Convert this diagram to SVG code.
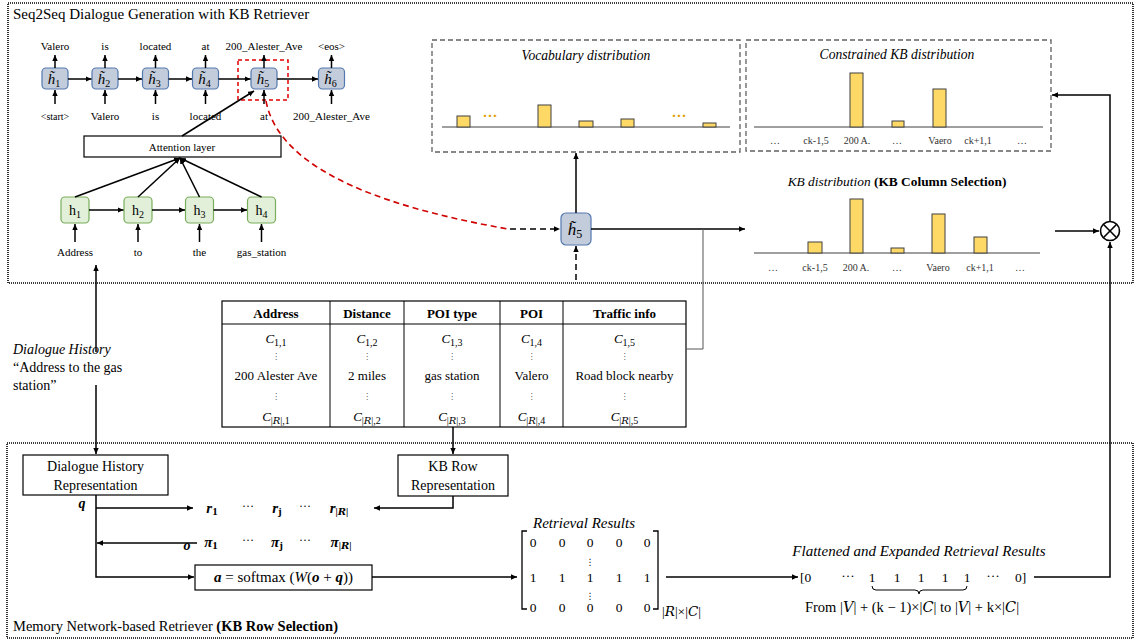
<svg xmlns="http://www.w3.org/2000/svg" width="1136" height="641" viewBox="0 0 1136 641">
<style>
text{font-family:"Liberation Serif","DejaVu Serif",serif;fill:#000}
.lab{font-size:11px;text-anchor:middle}
.dn rect{fill:#C3CCDA;stroke:#5478B0;stroke-width:1.2}
.en rect{fill:#E2EFD9;stroke:#78AD5A;stroke-width:1.2}
.ln{stroke:#000;stroke-width:1.5;fill:none}
.arr{marker-end:url(#ah)}
.dot{fill:none;stroke:#000;stroke-width:1.6;stroke-dasharray:1 1}
.dash{fill:none;stroke:#606060;stroke-width:1.3;stroke-dasharray:5 3}
.bar{fill:#FFD966;stroke:#404040;stroke-width:1}
.ax{stroke:#404040;stroke-width:1.2}
.kl{font-size:10px;text-anchor:middle;fill:#333}
.it{font-style:italic}
.b{font-weight:bold}
.m{text-anchor:middle}
.hm{font-size:15px;font-style:italic;text-anchor:middle}
.sub{font-size:10px;font-style:normal}
.tb{font-size:13px;text-anchor:middle}
.vd{font-family:"DejaVu Sans",sans-serif;font-size:8px;text-anchor:middle;fill:#555}
.scr{font-family:"DejaVu Serif","DejaVu Sans",serif;font-style:italic}
.od{font-size:15px;text-anchor:middle;fill:#E0A000;font-weight:bold}
.mx{font-size:13.5px;text-anchor:middle}
</style>
<defs>
<marker id="ah" markerWidth="7" markerHeight="7" refX="6" refY="3" orient="auto" markerUnits="userSpaceOnUse"><path d="M0,0.3 L6,3 L0,5.7 z" fill="#000"/></marker>
</defs>

<!-- section frames -->
<g id="frames">
<rect class="dot" x="8" y="3" width="1125" height="280"/>
<rect class="dot" x="7" y="443" width="1126" height="195"/>
<text x="13" y="19" style="font-size:15px">Seq2Seq Dialogue Generation with KB Retriever</text>
<text x="13" y="631" style="font-size:14.5px">Memory Network-based Retriever <tspan class="b">(KB Row Selection)</tspan></text>
</g>

<!-- decoder -->
<g id="decoder">
<g class="dn" id="dh1"><rect x="42" y="68" width="26" height="21" rx="4"/><text class="hm" x="54" y="84">h&#x303;<tspan class="sub" dy="3">1</tspan></text></g>
<g class="dn" id="dh2"><rect x="92" y="68" width="26" height="21" rx="4"/><text class="hm" x="104" y="84">h&#x303;<tspan class="sub" dy="3">2</tspan></text></g>
<g class="dn" id="dh3"><rect x="142.5" y="68" width="26" height="21" rx="4"/><text class="hm" x="154.5" y="84">h&#x303;<tspan class="sub" dy="3">3</tspan></text></g>
<g class="dn" id="dh4"><rect x="192.5" y="68" width="26" height="21" rx="4"/><text class="hm" x="204.5" y="84">h&#x303;<tspan class="sub" dy="3">4</tspan></text></g>
<g class="dn" id="dh5"><rect x="251" y="68" width="26" height="21" rx="4"/><text class="hm" x="263" y="84">h&#x303;<tspan class="sub" dy="3">5</tspan></text></g>
<g class="dn" id="dh6"><rect x="318.5" y="68" width="26" height="21" rx="4"/><text class="hm" x="330.5" y="84">h&#x303;<tspan class="sub" dy="3">6</tspan></text></g>
<g id="dec-labels">
<text class="lab" x="55" y="50">Valero</text>
<text class="lab" x="105" y="50">is</text>
<text class="lab" x="155.5" y="50">located</text>
<text class="lab" x="205.5" y="50">at</text>
<text class="lab" x="264" y="50">200_Alester_Ave</text>
<text class="lab" x="331.5" y="50">&lt;eos&gt;</text>
<text class="lab" x="55" y="120" style="font-size:10px">&lt;start&gt;</text>
<text class="lab" x="105" y="120">Valero</text>
<text class="lab" x="155.5" y="120">is</text>
<text class="lab" x="205.5" y="120">located</text>
<text class="lab" x="264" y="120">at</text>
<text class="lab" x="331.5" y="120">200_Alester_Ave</text>
</g>
<rect x="238" y="60" width="50" height="40" fill="none" stroke="#E00000" stroke-width="1.5" stroke-dasharray="4 3"/>
</g>

<!-- attention + encoder -->
<g id="attention">
<rect x="84" y="136" width="197" height="21" fill="#fff" stroke="#000" stroke-width="1.2"/>
<text class="lab" x="182" y="151">Attention layer</text>
</g>
<g id="encoder">
<g class="en" id="eh1"><rect x="61" y="197" width="28" height="26" rx="4"/><text x="75" y="215" class="m" style="font-size:14px">h<tspan class="sub" dy="3">1</tspan></text></g>
<g class="en" id="eh2"><rect x="124" y="197" width="28" height="26" rx="4"/><text x="138" y="215" class="m" style="font-size:14px">h<tspan class="sub" dy="3">2</tspan></text></g>
<g class="en" id="eh3"><rect x="185.5" y="197" width="28" height="26" rx="4"/><text x="199.5" y="215" class="m" style="font-size:14px">h<tspan class="sub" dy="3">3</tspan></text></g>
<g class="en" id="eh4"><rect x="247.5" y="197" width="28" height="26" rx="4"/><text x="261.5" y="215" class="m" style="font-size:14px">h<tspan class="sub" dy="3">4</tspan></text></g>
<text class="lab" x="75" y="256">Address</text>
<text class="lab" x="138" y="256">to</text>
<text class="lab" x="199.5" y="256">the</text>
<text class="lab" x="261.5" y="256">gas_station</text>
</g>

<!-- big h5 -->
<g id="h5big" class="dn">
<rect x="561" y="213" width="30" height="32" rx="5"/>
<text class="hm" x="575" y="235" style="font-size:17px">h&#x303;<tspan class="sub" dy="3" style="font-size:12px">5</tspan></text>
</g>

<!-- vocabulary distribution -->
<g id="vocab">
<rect class="dash" x="432" y="40" width="308" height="112"/>
<text x="586" y="60" class="m it" style="font-size:13.6px">Vocabulary distribution</text>
<line class="ax" x1="442" y1="127" x2="730" y2="127"/>
<rect class="bar" x="457" y="116" width="13" height="11"/>
<rect class="bar" x="538" y="105" width="13" height="22"/>
<rect class="bar" x="579" y="121" width="14" height="6"/>
<rect class="bar" x="621" y="119" width="13" height="8"/>
<rect class="bar" x="703" y="123" width="13" height="4"/>
<text x="490" y="121" class="od">···</text>
<text x="679" y="121" class="od">···</text>
</g>

<!-- constrained KB distribution -->
<g id="constrained">
<rect class="dash" x="746" y="40" width="305" height="111"/>
<text x="897" y="59" class="m it" style="font-size:13.6px">Constrained KB distribution</text>
<line class="ax" x1="754" y1="127" x2="1043" y2="127"/>
<rect class="bar" x="850" y="73" width="13" height="54"/>
<rect class="bar" x="892" y="121" width="12" height="6"/>
<rect class="bar" x="933" y="89" width="13" height="38"/>
<text class="kl" x="775" y="144">…</text>
<text class="kl" x="816" y="144">ck-1,5</text>
<text class="kl" x="857" y="144">200 A.</text>
<text class="kl" x="897" y="144">…</text>
<text class="kl" x="940" y="144">Vaero</text>
<text class="kl" x="978" y="144">ck+1,1</text>
<text class="kl" x="1022" y="144">…</text>
</g>

<!-- KB distribution -->
<g id="kbdist">
<text x="897" y="186" class="m" style="font-size:13.4px"><tspan class="it">KB distribution </tspan><tspan class="b">(KB Column Selection)</tspan></text>
<line class="ax" x1="754" y1="253" x2="1040" y2="253"/>
<rect class="bar" x="808" y="242" width="14" height="11"/>
<rect class="bar" x="850" y="199" width="13" height="54"/>
<rect class="bar" x="891" y="248" width="13" height="5"/>
<rect class="bar" x="932" y="214" width="13" height="39"/>
<rect class="bar" x="974" y="237" width="13" height="16"/>
<text class="kl" x="773" y="271">…</text>
<text class="kl" x="815" y="271">ck-1,5</text>
<text class="kl" x="856" y="271">200 A.</text>
<text class="kl" x="897" y="271">…</text>
<text class="kl" x="938" y="271">Vaero</text>
<text class="kl" x="980" y="271">ck+1,1</text>
<text class="kl" x="1020" y="271">…</text>
</g>

<!-- multiply -->
<g id="mult">
<circle cx="1110" cy="231" r="9.5" fill="none" stroke="#000" stroke-width="1.6"/>
<line x1="1103.3" y1="224.3" x2="1116.7" y2="237.7" stroke="#000" stroke-width="1.6"/>
<line x1="1103.3" y1="237.7" x2="1116.7" y2="224.3" stroke="#000" stroke-width="1.6"/>
</g>

<!-- KB table -->
<g id="kbtable">
<rect x="222" y="301" width="464" height="126" fill="#fff" stroke="#000" stroke-width="1.2"/>
<line x1="222" y1="324" x2="686" y2="324" stroke="#000" stroke-width="1"/>
<line x1="330" y1="301" x2="330" y2="427" stroke="#000" stroke-width="1"/>
<line x1="404" y1="301" x2="404" y2="427" stroke="#000" stroke-width="1"/>
<line x1="500" y1="301" x2="500" y2="427" stroke="#000" stroke-width="1"/>
<line x1="563" y1="301" x2="563" y2="427" stroke="#000" stroke-width="1"/>
<text class="tb b" x="276" y="318">Address</text>
<text class="tb b" x="367" y="318">Distance</text>
<text class="tb b" x="452" y="318">POI type</text>
<text class="tb b" x="531.5" y="318">POI</text>
<text class="tb b" x="624.5" y="318">Traffic info</text>
<text class="tb it" x="276" y="343">C<tspan class="sub" dy="3">1,1</tspan></text>
<text class="tb it" x="367" y="343">C<tspan class="sub" dy="3">1,2</tspan></text>
<text class="tb it" x="452" y="343">C<tspan class="sub" dy="3">1,3</tspan></text>
<text class="tb it" x="531.5" y="343">C<tspan class="sub" dy="3">1,4</tspan></text>
<text class="tb it" x="624.5" y="343">C<tspan class="sub" dy="3">1,5</tspan></text>
<text class="vd" x="276" y="359">⋮</text><text class="vd" x="367" y="359">⋮</text><text class="vd" x="452" y="359">⋮</text><text class="vd" x="531.5" y="359">⋮</text><text class="vd" x="624.5" y="359">⋮</text>
<text class="tb" x="276" y="380">200 Alester Ave</text>
<text class="tb" x="367" y="380">2 miles</text>
<text class="tb" x="452" y="380">gas station</text>
<text class="tb" x="531.5" y="380">Valero</text>
<text class="tb" x="624.5" y="380">Road block nearby</text>
<text class="vd" x="276" y="399">⋮</text><text class="vd" x="367" y="399">⋮</text><text class="vd" x="452" y="399">⋮</text><text class="vd" x="531.5" y="399">⋮</text><text class="vd" x="624.5" y="399">⋮</text>
<text class="tb it" x="276" y="421">C<tspan class="sub" dy="3">|<tspan class="scr">R</tspan>|,1</tspan></text>
<text class="tb it" x="367" y="421">C<tspan class="sub" dy="3">|<tspan class="scr">R</tspan>|,2</tspan></text>
<text class="tb it" x="452" y="421">C<tspan class="sub" dy="3">|<tspan class="scr">R</tspan>|,3</tspan></text>
<text class="tb it" x="531.5" y="421">C<tspan class="sub" dy="3">|<tspan class="scr">R</tspan>|,4</tspan></text>
<text class="tb it" x="624.5" y="421">C<tspan class="sub" dy="3">|<tspan class="scr">R</tspan>|,5</tspan></text>
</g>

<!-- dialogue history text -->
<g id="dialogue-history">
<text x="13" y="354" class="it" style="font-size:14px">Dialogue History</text>
<text x="13" y="372" style="font-size:14px">“Address to the gas</text>
<text x="13" y="390" style="font-size:14px">station”</text>
</g>

<!-- retriever nodes -->
<g id="dhr">
<rect x="23" y="455" width="145" height="40" fill="#fff" stroke="#000" stroke-width="1.2"/>
<text x="95.5" y="471" class="m" style="font-size:14px">Dialogue History</text>
<text x="95.5" y="490" class="m" style="font-size:14px">Representation</text>
<text x="82" y="508" class="m b it" style="font-size:14px">q</text>
</g>
<g id="kbrow">
<rect x="398" y="455" width="110" height="41" fill="#fff" stroke="#000" stroke-width="1.2"/>
<text x="453" y="471" class="m" style="font-size:14px">KB Row</text>
<text x="453" y="490" class="m" style="font-size:14px">Representation</text>
</g>
<g id="rvec">
<text x="212" y="513" class="m b it" style="font-size:15px">r<tspan class="sub b" dy="2" style="font-size:11px">1</tspan></text>
<text x="248" y="510" class="m" style="font-size:12px">···</text>
<text x="277" y="513" class="m b it" style="font-size:15px">r<tspan class="sub b it" dy="2" style="font-size:11px">j</tspan></text>
<text x="305" y="510" class="m" style="font-size:12px">···</text>
<text x="339" y="513" class="m b it" style="font-size:15px">r<tspan class="sub" dy="2" style="font-size:10px">|<tspan class="scr">R</tspan>|</tspan></text>
</g>
<g id="pivec">
<text x="187" y="550" class="m b it" style="font-size:14px">o</text>
<text x="211" y="547" class="m b it" style="font-size:15px">π<tspan class="sub b" dy="2" style="font-size:11px">1</tspan></text>
<text x="248" y="544" class="m" style="font-size:12px">···</text>
<text x="277" y="547" class="m b it" style="font-size:15px">π<tspan class="sub b it" dy="2" style="font-size:11px">j</tspan></text>
<text x="305" y="544" class="m" style="font-size:12px">···</text>
<text x="341" y="547" class="m b it" style="font-size:15px">π<tspan class="sub" dy="2" style="font-size:10px">|<tspan class="scr">R</tspan>|</tspan></text>
</g>
<g id="softmax">
<rect x="195" y="565" width="177" height="25" fill="#fff" stroke="#000" stroke-width="1.2"/>
<text x="283.5" y="582" class="m" style="font-size:15px"><tspan class="b it">a</tspan> = softmax (<tspan class="it">W</tspan>(<tspan class="b it">o</tspan> + <tspan class="b it">q</tspan>))</text>
</g>

<!-- retrieval matrix -->
<g id="matrix">
<text x="584" y="528" class="m it" style="font-size:15px">Retrieval Results</text>
<path d="M527,531 H522 V609 H527 M653,531 H658 V609 H653" fill="none" stroke="#000" stroke-width="1.3"/>
<text x="533" y="547" class="mx">0</text><text x="562" y="547" class="mx">0</text><text x="590" y="547" class="mx">0</text><text x="619" y="547" class="mx">0</text><text x="647" y="547" class="mx">0</text>
<text x="533" y="582" class="mx">1</text><text x="562" y="582" class="mx">1</text><text x="590" y="582" class="mx">1</text><text x="619" y="582" class="mx">1</text><text x="647" y="582" class="mx">1</text>
<text x="533" y="612" class="mx">0</text><text x="562" y="612" class="mx">0</text><text x="590" y="612" class="mx">0</text><text x="619" y="612" class="mx">0</text><text x="647" y="612" class="mx">0</text>
<text class="vd" x="590" y="565" style="fill:#000;font-size:9px">⋮</text>
<text class="vd" x="590" y="599" style="fill:#000;font-size:9px">⋮</text>
<text x="662" y="616" style="font-size:13.5px">|<tspan class="scr">R</tspan>|×|<tspan class="scr">C</tspan>|</text>
</g>

<!-- flattened -->
<g id="flattened">
<text x="919" y="556" class="m it" style="font-size:15px">Flattened and Expanded Retrieval Results</text>
<text x="800" y="582" style="font-size:13.5px">[0</text>
<text x="848" y="580" class="mx">···</text>
<text x="872" y="582" class="mx">1</text><text x="897" y="582" class="mx">1</text><text x="921" y="582" class="mx">1</text><text x="945" y="582" class="mx">1</text><text x="967" y="582" class="mx">1</text>
<text x="993" y="580" class="mx">···</text>
<text x="1015" y="582" style="font-size:13.5px">0]</text>
<path d="M872,586 Q872,590 876,590 H915 Q919,590 919,594 Q919,590 923,590 H963 Q967,590 967,586" fill="none" stroke="#000" stroke-width="1"/>
<text x="912" y="612" class="m" style="font-size:14.5px">From |<tspan class="scr">V</tspan>| + (k − 1)×|<tspan class="scr">C</tspan>| to |<tspan class="scr">V</tspan>| + k×|<tspan class="scr">C</tspan>|</text>
</g>

<!-- connectors -->
<g id="connectors">
<g class="ln arr">
<line x1="55" y1="68" x2="55" y2="55"/><line x1="105" y1="68" x2="105" y2="55"/><line x1="155.5" y1="68" x2="155.5" y2="55"/><line x1="205.5" y1="68" x2="205.5" y2="55"/><line x1="264" y1="68" x2="264" y2="55"/><line x1="331.5" y1="68" x2="331.5" y2="55"/>
<line x1="55" y1="104" x2="55" y2="90"/><line x1="105" y1="104" x2="105" y2="90"/><line x1="155.5" y1="104" x2="155.5" y2="90"/><line x1="205.5" y1="104" x2="205.5" y2="90"/><line x1="264" y1="104" x2="264" y2="90"/><line x1="331.5" y1="104" x2="331.5" y2="90"/>
<line x1="68" y1="79" x2="91.5" y2="79"/><line x1="118" y1="79" x2="142" y2="79"/><line x1="168.5" y1="79" x2="192" y2="79"/><line x1="218.5" y1="79" x2="250.5" y2="79"/><line x1="277" y1="79" x2="318" y2="79"/>
<line x1="182" y1="136" x2="254" y2="91"/>
<line x1="75" y1="197" x2="180" y2="158"/><line x1="138" y1="197" x2="180" y2="158"/><line x1="199.5" y1="197" x2="180" y2="158"/><line x1="261.5" y1="197" x2="180" y2="158"/>
<line x1="89" y1="210" x2="123.5" y2="210"/><line x1="152" y1="210" x2="185" y2="210"/><line x1="213.5" y1="210" x2="247" y2="210"/>
<line x1="75" y1="242" x2="75" y2="224"/><line x1="138" y1="242" x2="138" y2="224"/><line x1="199.5" y1="242" x2="199.5" y2="224"/><line x1="261.5" y1="242" x2="261.5" y2="224"/>
<line x1="96" y1="352" x2="96" y2="265"/>
<line x1="96" y1="385" x2="96" y2="454"/>
<line x1="576" y1="213" x2="576" y2="153"/>
<line x1="591" y1="229" x2="745" y2="229"/>
<line x1="1055" y1="231" x2="1099" y2="231"/>
<polyline points="1110,221 1110,95 1052,95"/>
<polyline points="1034,577 1110,577 1110,242"/>
<line x1="666" y1="577" x2="798" y2="577"/>
<line x1="372" y1="577" x2="517" y2="577"/>
<line x1="453" y1="427" x2="453" y2="454"/>
<polyline points="453,496 453,508 374,508"/>
<line x1="96" y1="508" x2="193" y2="508"/>
<polyline points="96,495 96,577 194,577"/>
<line x1="197" y1="543" x2="97" y2="543"/>
</g>
<path d="M266,101 C280,175 400,210 508,229" fill="none" stroke="#D00000" stroke-width="1.6" stroke-dasharray="6 4"/>
<line x1="510" y1="229" x2="560" y2="229" class="ln arr" stroke-dasharray="6 4"/>
<line x1="576" y1="280" x2="576" y2="246" class="ln arr" stroke-dasharray="6 4"/>
<polyline points="686,349 703,349 703,229" fill="none" stroke="#555" stroke-width="1"/>
</g>
</svg>
